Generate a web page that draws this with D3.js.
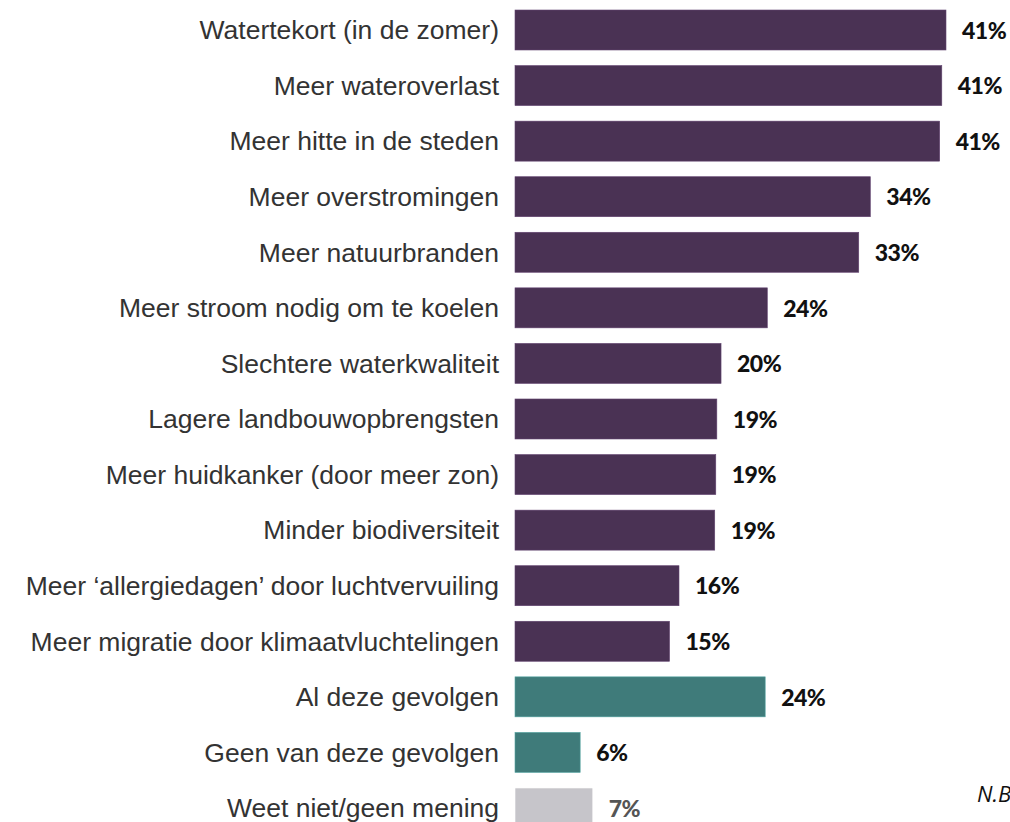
<!DOCTYPE html>
<html>
<head>
<meta charset="utf-8">
<script src="https://cdn.jsdelivr.net/npm/d3@7"></script>
<style>
  html, body { margin: 0; padding: 0; background: #fff; overflow: hidden; }
  svg { display: block; }
</style>
</head>
<body>
<svg id="chart" width="1010" height="822"></svg>
<script>
const categories = [
  "Watertekort (in de zomer)",
  "Meer wateroverlast",
  "Meer hitte in de steden",
  "Meer overstromingen",
  "Meer natuurbranden",
  "Meer stroom nodig om te koelen",
  "Slechtere waterkwaliteit",
  "Lagere landbouwopbrengsten",
  "Meer huidkanker (door meer zon)",
  "Minder biodiversiteit",
  "Meer \u2018allergiedagen\u2019 door luchtvervuiling",
  "Meer migratie door klimaatvluchtelingen",
  "Al deze gevolgen",
  "Geen van deze gevolgen",
  "Weet niet/geen mening"
];
const values = [41.0, 40.6, 40.4, 33.8, 32.7, 24.0, 19.6, 19.2, 19.1, 19.0, 15.6, 14.7, 23.8, 6.2, 7.4];
const valueLabels = ["41%", "41%", "41%", "34%", "33%", "24%", "20%", "19%", "19%", "19%", "16%", "15%", "24%", "6%", "7%"];
const groups = ["gevolg","gevolg","gevolg","gevolg","gevolg","gevolg","gevolg","gevolg","gevolg","gevolg","gevolg","gevolg","totaal","totaal","weetniet"];
const groupColors = { gevolg: "#4a3254", totaal: "#3f7b7a", weetniet: "#c6c5ca" };
const labelColors = { gevolg: "#111111", totaal: "#111111", weetniet: "#555555" };
const note = "N.B.";

const svg = d3.select("#chart");
const marginLeft = 515;
const marginTop = 10;
const step = 55.57;
const barH = 40;
const n = categories.length;

const x = d3.scaleLinear().domain([0, 41]).range([marginLeft, 946]);
const y = d3.scaleBand()
  .domain(categories)
  .range([marginTop, marginTop + step * (n - 1) + barH])
  .paddingInner((step - barH) / step)
  .paddingOuter(0)
  .align(0);

const data = categories.map((c, i) => ({ c, v: values[i], lab: valueLabels[i], g: groups[i] }));

svg.selectAll("rect.bar")
  .data(data)
  .join("rect")
  .attr("class", "bar")
  .attr("x", x(0))
  .attr("y", d => y(d.c))
  .attr("width", d => x(d.v) - x(0))
  .attr("height", y.bandwidth())
  .attr("fill", d => groupColors[d.g])
  .attr("stroke", d => d3.color(groupColors[d.g]).brighter(0.8))
  .attr("stroke-width", 0.6);

svg.selectAll("text.cat")
  .data(data)
  .join("text")
  .attr("class", "cat")
  .attr("x", 499)
  .attr("y", d => y(d.c) + y.bandwidth() / 2)
  .attr("dy", "0.35em")
  .attr("text-anchor", "end")
  .attr("font-family", "'Liberation Sans', Arial, sans-serif")
  .attr("font-size", 26.5)
  .attr("fill", "#333333")
  .text(d => d.c);

svg.selectAll("text.val")
  .data(data)
  .join("text")
  .attr("class", "val")
  .attr("x", d => x(d.v) + 16)
  .attr("y", d => y(d.c) + y.bandwidth() / 2)
  .attr("dy", "0.38em")
  .attr("font-family", "Lato, 'Open Sans', sans-serif")
  .attr("font-weight", 900)
  .attr("font-size", 23)
  .attr("letter-spacing", -0.5)
  .attr("fill", d => labelColors[d.g])
  .text(d => d.lab);

svg.append("text")
  .attr("x", 977)
  .attr("y", 802)
  .attr("font-family", "'Open Sans', sans-serif")
  .attr("font-style", "italic")
  .attr("font-size", 22)
  .attr("fill", "#111")
  .text(note);
</script>
</body>
</html>
